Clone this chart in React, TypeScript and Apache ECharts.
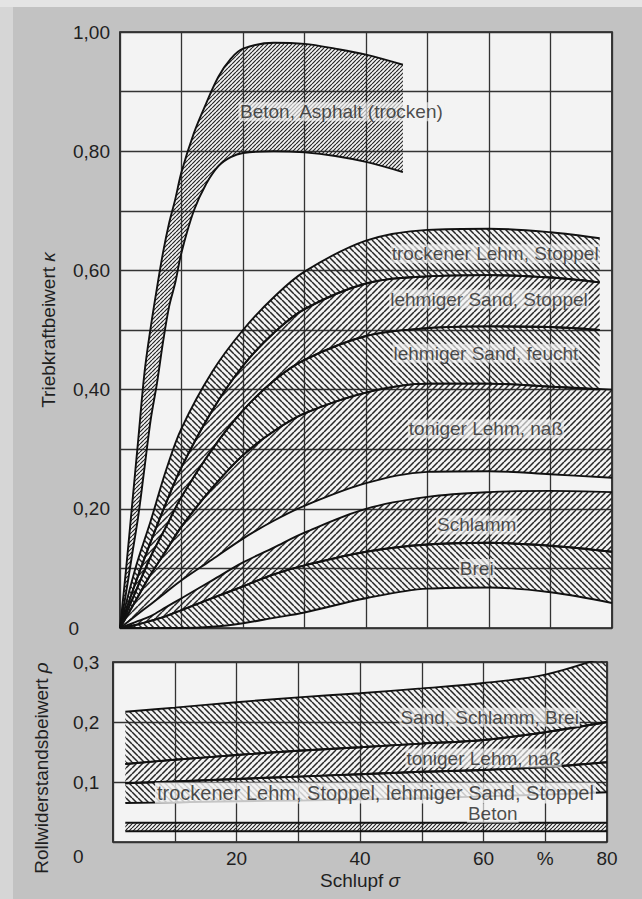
import { useEffect, useRef } from 'react';
import * as echarts from 'echarts';

// ---------- Data ----------
// Upper panel: traction coefficient kappa vs slip sigma (%)
const betonX = [0, 1, 2, 3, 4, 5, 6, 7, 8, 9, 10, 12, 14, 16, 18, 20, 25, 30, 35, 40, 46];
const betonUpper = [0, 0.1, 0.21, 0.32, 0.43, 0.505, 0.57, 0.63, 0.68, 0.72, 0.765, 0.83, 0.88, 0.925, 0.955, 0.972, 0.982, 0.98, 0.972, 0.962, 0.945];
const betonLower = [0, 0.06, 0.125, 0.19, 0.27, 0.35, 0.41, 0.48, 0.54, 0.58, 0.63, 0.7, 0.745, 0.775, 0.79, 0.797, 0.8, 0.798, 0.792, 0.782, 0.765];

const soilXa = [0, 2.5, 5, 7.5, 10, 15, 20, 25, 30, 40, 50, 60, 70, 78];
const soilXb = [0, 2.5, 5, 7.5, 10, 15, 20, 25, 30, 40, 50, 60, 70, 80];
const curve1 = [0, 0.1, 0.18, 0.265, 0.335, 0.43, 0.5, 0.555, 0.598, 0.65, 0.668, 0.67, 0.664, 0.654];
const curve2 = [0, 0.075, 0.145, 0.21, 0.27, 0.365, 0.44, 0.495, 0.535, 0.578, 0.59, 0.592, 0.588, 0.58];
const curve3 = [0, 0.06, 0.12, 0.17, 0.22, 0.3, 0.365, 0.415, 0.45, 0.49, 0.503, 0.506, 0.505, 0.5];
const curve4 = [0, 0.045, 0.09, 0.13, 0.17, 0.235, 0.29, 0.33, 0.36, 0.395, 0.41, 0.41, 0.405, 0.4];
const curve5 = [0, 0.02, 0.04, 0.06, 0.08, 0.115, 0.15, 0.18, 0.205, 0.243, 0.262, 0.263, 0.258, 0.252];
const curve6 = [0, 0.01, 0.02, 0.035, 0.05, 0.08, 0.11, 0.135, 0.16, 0.2, 0.22, 0.228, 0.23, 0.228];
const curve7 = [0, 0.005, 0.012, 0.02, 0.03, 0.05, 0.07, 0.09, 0.105, 0.128, 0.14, 0.143, 0.138, 0.128];
const curve8 = [0, 0, 0, 0, 0, 0.002, 0.008, 0.017, 0.026, 0.05, 0.066, 0.068, 0.06, 0.042];

const topLabels = ['Beton, Asphalt (trocken)', 'trockener Lehm, Stoppel', 'lehmiger Sand, Stoppel', 'lehmiger Sand, feucht', 'toniger Lehm, naß', 'Schlamm', 'Brei'];
const topLabelSigma = [36, 61, 60, 59.5, 59.5, 58, 58];
const topLabelKappa = [0.866, 0.628, 0.552, 0.461, 0.334, 0.173, 0.1];

// Lower panel: rolling resistance coefficient rho vs slip sigma (%)
const rollX = [2, 10, 20, 30, 40, 50, 60, 70, 80];
const rho1 = [0.217, 0.224, 0.233, 0.241, 0.248, 0.256, 0.265, 0.279, 0.31];
const rho2 = [0.13, 0.137, 0.145, 0.152, 0.158, 0.164, 0.17, 0.183, 0.2];
const rho3 = [0.098, 0.101, 0.105, 0.109, 0.113, 0.117, 0.12, 0.125, 0.133];
const rho4 = [0.065, 0.066, 0.068, 0.069, 0.071, 0.073, 0.076, 0.079, 0.083];
const rollBetonX = [2, 80];
const rhoBetonUpper = [0.032, 0.032];
const rhoBetonLower = [0.018, 0.018];

const bottomLabels = ['Sand, Schlamm, Brei', 'toniger Lehm, naß', 'trockener Lehm, Stoppel, lehmiger Sand, Stoppel', 'Beton'];
const bottomLabelSigma = [61, 60, 42.5, 61.5];
const bottomLabelRho = [0.208, 0.14, 0.0815, 0.048];

// slip axis: categories every 0.5 %, labels at 20/40/60/%/80
const SLIP_STEP = 0.5;
const slipCategories = Array.from({ length: 161 }, (_, i) => String(i * SLIP_STEP));
const xTickLabels: Record<string, string> = { '20': '20', '40': '40', '60': '60', '70': '%', '80': '80' };

// ---------- Helpers ----------
const FONT = "'Liberation Sans', Arial, Helvetica, sans-serif";
const INK = '#1f1f1f';
const PAPER = '#f3f3f3';
const idx = (sigma: number) => Math.round(sigma / SLIP_STEP);

function hatch(dir: 1 | -1, s: number, lw: number, color: string) {
  const c = document.createElement('canvas');
  c.width = s;
  c.height = s;
  const ctx = c.getContext('2d')!;
  ctx.strokeStyle = color;
  ctx.lineWidth = lw;
  ctx.beginPath();
  for (let k = -1; k <= 1; k++) {
    if (dir === 1) {
      ctx.moveTo(k * s, s);
      ctx.lineTo(k * s + s, 0);
    } else {
      ctx.moveTo(k * s, 0);
      ctx.lineTo(k * s + s, s);
    }
  }
  ctx.stroke();
  return { image: c, repeat: 'repeat', imageWidth: s, imageHeight: s } as any;
}

function band(id: string, xs: number[], upper: number[], lower: number[], fill: any, axis: number) {
  const common = {
    type: 'line',
    xAxisIndex: axis,
    yAxisIndex: axis,
    stack: id,
    symbol: 'none',
    smooth: 0.35,
    silent: true,
    lineStyle: { color: '#111', width: 1.9 },
    z: 3,
  };
  return [
    { ...common, name: id + '-lower', data: xs.map((x, i) => [idx(x), lower[i]]) },
    {
      ...common,
      name: id + '-upper',
      data: xs.map((x, i) => [idx(x), +(upper[i] - lower[i]).toFixed(4)]),
      areaStyle: { color: fill, opacity: 1 },
    },
  ];
}

function labelSeries(names: string[], xs: number[], ys: number[], axis: number, extra: (i: number) => any) {
  return names.map((n, i) => ({
    type: 'scatter',
    xAxisIndex: axis,
    yAxisIndex: axis,
    symbolSize: 0,
    silent: true,
    z: 10,
    itemStyle: { color: 'transparent' },
    label: {
      show: true,
      position: 'inside',
      formatter: n,
      fontFamily: FONT,
      fontSize: 19,
      color: INK,
      backgroundColor: 'rgba(243,243,243,0.82)',
      padding: [0, 1, 0, 1],
      ...extra(i),
    },
    data: [[idx(xs[i]), ys[i]]],
  }));
}

export default function App() {
  const ref = useRef<HTMLDivElement>(null);

  useEffect(() => {
    if (!ref.current) return;
    const chart = echarts.init(ref.current, undefined, { renderer: 'svg' });
    const H = '#262626';
    const fineF = hatch(1, 4, 1.2, H);
    const hF = hatch(1, 6, 1.5, H);
    const hB = hatch(-1, 6, 1.5, H);

    const splitLine = { show: true, interval: 19, lineStyle: { color: '#333', width: 1.3 } };
    const ySplit = { show: true, lineStyle: { color: '#333', width: 1.3 } };
    const axisFont = { fontFamily: FONT, fontSize: 19, color: INK };
    const italic = { i: { fontFamily: FONT, fontSize: 19, fontStyle: 'italic', color: INK } };

    const option: any = {
      animation: false,
      backgroundColor: 'transparent',
      graphic: [
        { type: 'rect', shape: { x: 0, y: 0, width: 642, height: 7 }, style: { fill: '#e4e4e4' }, silent: true },
        { type: 'rect', shape: { x: 0, y: 7, width: 13, height: 892 }, style: { fill: '#d6d6d6' }, silent: true },
      ],
      grid: [
        { left: 120, top: 32, width: 492, height: 596, show: true, backgroundColor: PAPER, borderColor: '#1a1a1a', borderWidth: 1.7 },
        { left: 113, top: 662, width: 494, height: 180, show: true, backgroundColor: PAPER, borderColor: '#1a1a1a', borderWidth: 1.7 },
      ],
      xAxis: [
        {
          gridIndex: 0, type: 'category', data: slipCategories, boundaryGap: false,
          axisLine: { show: false }, axisTick: { show: false }, axisLabel: { show: false }, splitLine,
        },
        {
          gridIndex: 1, type: 'category', data: slipCategories, boundaryGap: false,
          axisLine: { show: false }, axisTick: { show: false }, splitLine,
          axisLabel: { ...axisFont, margin: 7, interval: 19, formatter: (v: string) => xTickLabels[v] ?? '' },
          name: 'Schlupf {i|σ}', nameLocation: 'middle', nameGap: 29,
          nameTextStyle: { ...axisFont, rich: italic },
        },
      ],
      yAxis: [
        {
          gridIndex: 0, type: 'value', min: 0, max: 1, interval: 0.1,
          axisLine: { show: false }, axisTick: { show: false }, splitLine: ySplit,
          axisLabel: {
            ...axisFont, margin: 10, align: 'right',
            formatter: (v: number) => {
              const k = Math.round(v * 10);
              if (k % 2) return '';
              if (k === 0) return '{z|0}';
              return (k / 10).toFixed(2).replace('.', ',');
            },
            rich: { z: { fontFamily: FONT, fontSize: 19, color: INK, padding: [0, 31, 0, 0] } },
          },
          name: 'Triebkraftbeiwert {i|κ}', nameLocation: 'middle', nameGap: 62, nameRotate: 90,
          nameTextStyle: { ...axisFont, rich: italic },
        },
        {
          gridIndex: 1, type: 'value', min: 0, max: 0.3, interval: 0.1,
          axisLine: { show: false }, axisTick: { show: false }, splitLine: ySplit,
          axisLabel: {
            ...axisFont, margin: 40, align: 'left',
            formatter: (v: number) => (Math.round(v * 10) === 0 ? '{z|0}' : v.toFixed(1).replace('.', ',')),
            rich: { z: { fontFamily: FONT, fontSize: 19, color: INK, padding: [28, 0, 0, 0] } },
          },
          name: 'Rollwiderstandsbeiwert {i|ρ}', nameLocation: 'middle', nameGap: 62, nameRotate: 90,
          nameTextStyle: { ...axisFont, padding: [0, 32, 0, 0], rich: italic },
        },
      ],
      series: [
        ...band('beton', betonX, betonUpper, betonLower, fineF, 0),
        ...band('trLehm', soilXa, curve1, curve2, hB, 0),
        ...band('lSandSt', soilXa, curve2, curve3, hF, 0),
        ...band('lSandF', soilXa, curve3, curve4, hB, 0),
        ...band('tonLehm', soilXb, curve4, curve5, hF, 0),
        ...band('schlamm', soilXb, curve6, curve7, hF, 0),
        ...band('brei', soilXb, curve7, curve8, hB, 0),
        ...band('rSand', rollX, rho1, rho2, hB, 1),
        ...band('rTon', rollX, rho2, rho3, hF, 1),
        ...band('rTrock', rollX, rho3, rho4, hB, 1),
        ...band('rBeton', rollBetonX, rhoBetonUpper, rhoBetonLower, fineF, 1),
        ...labelSeries(topLabels, topLabelSigma, topLabelKappa, 0, () => ({})),
        ...labelSeries(bottomLabels, bottomLabelSigma, bottomLabelRho, 1, (i) =>
          i === 2 ? { backgroundColor: PAPER, padding: [1, 2, 0, 2], fontSize: 20 } : {}
        ),
      ],
    };
    chart.setOption(option);
    return () => chart.dispose();
  }, []);

  return (
    <div
      ref={ref}
      style={{ position: 'fixed', left: 0, top: 0, width: 642, height: 899, background: '#c2c2c2' }}
    />
  );
}
